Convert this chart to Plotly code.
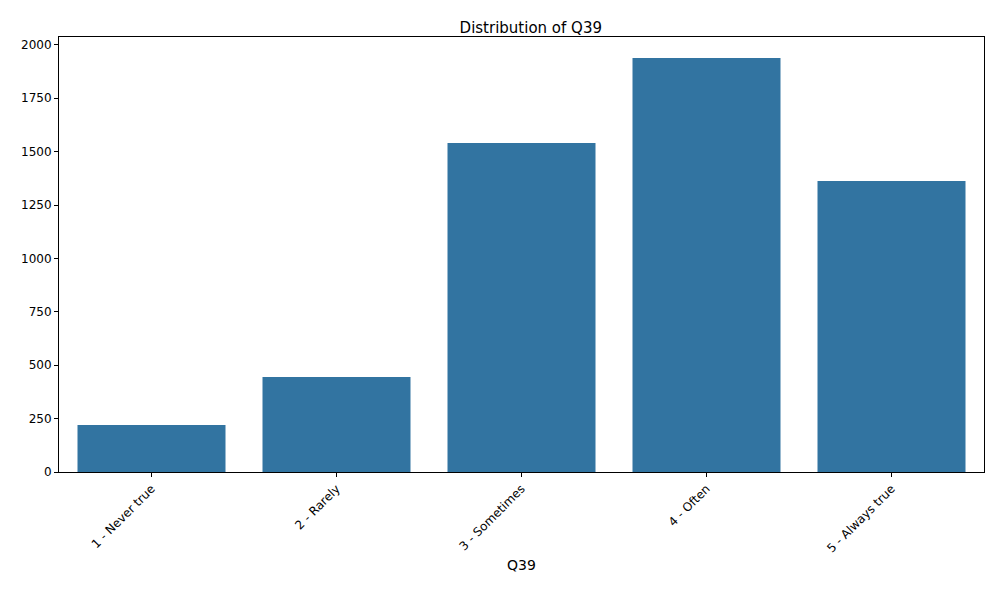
import plotly.graph_objects as go

categories = ["1 - Never true", "2 - Rarely", "3 - Sometimes", "4 - Often", "5 - Always true"]
counts = [220, 445, 1541, 1939, 1363]

fig = go.Figure(go.Bar(x=categories, y=counts, marker_color="#3274a1", marker_line_width=0, width=0.8))
fig.update_layout(
    width=992, height=592, plot_bgcolor="white", paper_bgcolor="white",
    margin=dict(l=51, r=16, t=29, b=128),
    font=dict(family="DejaVu Sans", size=12, color="black"),
    title=dict(text="Distribution of Q39", x=0.527, xanchor="center", y=0.975, yanchor="top", font=dict(size=15)),
    showlegend=False,
)
fig.update_xaxes(title_text="Q39", tickangle=-45, range=[-0.5, 4.5], showline=True, linecolor="black",
                 mirror=True, ticks="outside", ticklen=4, tickcolor="black", title_standoff=5)
fig.update_yaxes(range=[0, 2037], tickvals=[0, 250, 500, 750, 1000, 1250, 1500, 1750, 2000],
                 showgrid=False, showline=True, linecolor="black", mirror=True, ticks="outside",
                 ticklen=4, tickcolor="black", zeroline=False)
fig.write_html("out.html")
